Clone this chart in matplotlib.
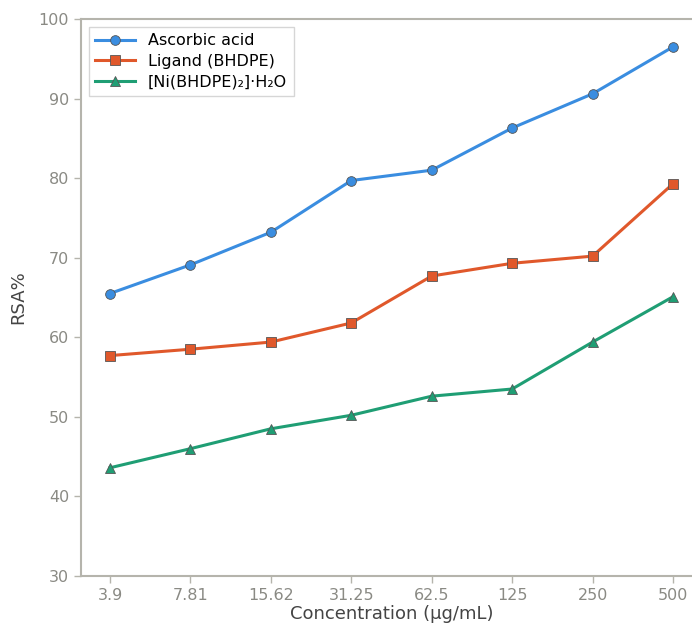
import matplotlib.pyplot as plt

concentrations = ["3.9", "7.81", "15.62", "31.25", "62.5", "125", "250", "500"]
ascorbic = [65.5, 69.1, 73.2, 79.7, 81.0, 86.3, 90.6, 96.5]
ligand = [57.7, 58.5, 59.4, 61.8, 67.7, 69.3, 70.2, 79.3]
complex_ni = [43.6, 46.0, 48.5, 50.2, 52.6, 53.5, 59.4, 65.1]

series = [
    ("Ascorbic acid", ascorbic, "#3a8de0", "o"),
    ("Ligand (BHDPE)", ligand, "#e0582b", "s"),
    ("[Ni(BHDPE)₂]·H₂O", complex_ni, "#1f9e74", "^"),
]

fig = plt.figure(figsize=(6.92, 6.25), dpi=100)
ax = fig.add_axes([81 / 692, 49 / 625, 621 / 692, 557 / 625])

x = range(len(concentrations))
for label, vals, color, marker in series:
    ax.plot(x, vals, color=color, lw=2.2, marker=marker, markersize=7,
            markerfacecolor=color, markeredgecolor="#555555", markeredgewidth=0.6,
            label=label)

ax.set_xlim(-0.36, 7.36)
ax.set_ylim(30, 100)
ax.set_xticks(list(x))
ax.set_xticklabels(concentrations)
ax.set_yticks(range(30, 101, 10))

for side in ["left", "bottom", "top"]:
    ax.spines[side].set_color("#b5b4ac")
    ax.spines[side].set_linewidth(1.5)
ax.spines["right"].set_visible(False)
ax.tick_params(colors="#b5b4ac", labelcolor="#8a8a84", labelsize=11.5,
               length=5, width=1.0, direction="out")
ax.tick_params(axis="x", pad=4)

ax.set_xlabel("Concentration (µg/mL)", fontsize=13, color="#444444", labelpad=1)
ax.set_ylabel("RSA%", fontsize=13, color="#444444", labelpad=8)

leg = ax.legend(loc="upper left", fontsize=11.5, frameon=True, fancybox=False,
                edgecolor="#cccccc", borderaxespad=0.5, handlelength=2.5,
                labelspacing=0.35)
leg.get_frame().set_linewidth(1.0)

fig.savefig("out.png", dpi=100)
